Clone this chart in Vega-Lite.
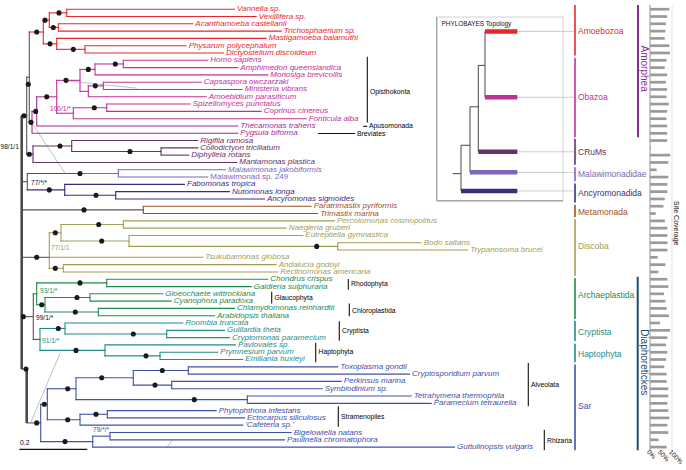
{
"$schema":"https://vega.github.io/schema/vega-lite/v6.json",
"width":686,"height":470,"autosize":{"type":"none"},"padding":0,"background":"white",
"config":{"view":{"stroke":null},"axis":{"disable":true},"legend":{"disable":true},"text":{"font":"Liberation Sans"}},
"datasets":{
"leaves":[
{"n":"Vannella sp.","x":66.7,"x2":235,"y":4.3,"g":"amoeb","cov":88},
{"n":"Vexillifera sp.","x":66.7,"x2":256.7,"y":11.8,"g":"amoeb","cov":78},
{"n":"Acanthamoeba castellanii","x":58.3,"x2":193.3,"y":19.2,"g":"amoeb","cov":72},
{"n":"Trichosphaerium sp.","x":58.3,"x2":281.7,"y":26.7,"g":"amoeb","cov":70},
{"n":"Mastigamoeba balamuthi","x":56.7,"x2":266.7,"y":34.1,"g":"amoeb","cov":67},
{"n":"Physarum polycephalum","x":85,"x2":186.7,"y":41.6,"g":"amoeb","cov":88},
{"n":"Dictyostelium discoideum","x":85,"x2":224,"y":49.0,"g":"amoeb","cov":91},
{"n":"Homo sapiens","x":123.3,"x2":208.3,"y":56.5,"g":"obaz","cov":75},
{"n":"Amphimedon queenslandica","x":123.3,"x2":238.3,"y":64.0,"g":"obaz","cov":67},
{"n":"Monosiga brevicollis","x":95,"x2":268.3,"y":71.4,"g":"obaz","cov":78},
{"n":"Capsaspora owczarzaki","x":103.3,"x2":201.7,"y":78.9,"g":"obaz","cov":72},
{"n":"Ministeria vibrans","x":103.3,"x2":242.7,"y":86.3,"g":"obaz","cov":78},
{"n":"Amoebidium parasiticum","x":88.3,"x2":206.7,"y":93.8,"g":"obaz","cov":75},
{"n":"Spizellomyces punctatus","x":106.7,"x2":190.7,"y":101.2,"g":"obaz","cov":85},
{"n":"Coprinus cinereus","x":106.7,"x2":261.7,"y":108.7,"g":"obaz","cov":78},
{"n":"Fonticula alba","x":73.3,"x2":306.7,"y":116.2,"g":"obaz","cov":75},
{"n":"Thecamonas trahens","x":36.7,"x2":238.3,"y":123.6,"g":"obaz2","cov":78},
{"n":"Pygsuia biforma","x":32,"x2":238.3,"y":131.1,"g":"obaz2","cov":78},
{"n":"Rigifila ramosa","x":71.7,"x2":198.3,"y":138.5,"g":"crums","cov":78},
{"n":"Collodictyon triciliatum","x":161,"x2":198.3,"y":146.0,"g":"crums","cov":3},
{"n":"Diphylleia rotans","x":161,"x2":189.3,"y":153.4,"g":"crums","cov":92},
{"n":"Mantamonas plastica","x":33,"x2":237.3,"y":160.9,"g":"crums","cov":83},
{"n":"Malawimonas jakobiformis","x":118.3,"x2":226,"y":168.4,"g":"malaw","cov":30},
{"n":"Malawimonad sp. 249","x":118.3,"x2":208.3,"y":175.8,"g":"malaw","cov":83},
{"n":"Fabomonas tropica","x":64.7,"x2":185,"y":183.3,"g":"ancy","cov":79},
{"n":"Nutomonas longa","x":115.7,"x2":230,"y":190.7,"g":"ancy","cov":79},
{"n":"Ancyromonas sigmoides","x":115.7,"x2":265,"y":198.2,"g":"ancy","cov":67},
{"n":"Paratrimastix pyriformis","x":143.3,"x2":311.7,"y":205.6,"g":"meta","cov":61},
{"n":"Trimastix marina","x":143.3,"x2":318.3,"y":213.1,"g":"meta","cov":26},
{"n":"Percolomonas cosmopolitus","x":123.3,"x2":335,"y":220.6,"g":"disc","cov":68},
{"n":"Naegleria gruberi","x":123.3,"x2":286.7,"y":228.0,"g":"disc","cov":79},
{"n":"Eutreptiella gymnastica","x":129,"x2":303.3,"y":235.5,"g":"disc","cov":79},
{"n":"Bodo saltans","x":337.7,"x2":421.7,"y":242.9,"g":"disc","cov":79},
{"n":"Trypanosoma brucei","x":337.7,"x2":468.3,"y":250.4,"g":"disc","cov":79},
{"n":"Tsukubamonas globosa","x":49.3,"x2":203.3,"y":257.8,"g":"disc","cov":35},
{"n":"Andalucia godoyi","x":63.3,"x2":276.7,"y":265.3,"g":"disc","cov":70},
{"n":"Reclinomonas americana","x":63.3,"x2":278.3,"y":272.8,"g":"disc","cov":38},
{"n":"Chondrus crispus","x":106.7,"x2":268.3,"y":280.2,"g":"arch","cov":79},
{"n":"Galdieria sulphuraria","x":106.7,"x2":251.7,"y":287.7,"g":"arch","cov":83},
{"n":"Gloeochaete wittrockiana","x":90,"x2":163.3,"y":295.1,"g":"arch","cov":64},
{"n":"Cyanophora paradoxa","x":90,"x2":171.7,"y":302.6,"g":"arch","cov":70},
{"n":"Chlamydomonas reinhardtii","x":98.3,"x2":235,"y":310.0,"g":"arch","cov":76},
{"n":"Arabidopsis thaliana","x":98.3,"x2":215,"y":317.5,"g":"arch","cov":86},
{"n":"Roombia truncata","x":65,"x2":183.3,"y":324.9,"g":"cryp","cov":45},
{"n":"Guillardia theta","x":166.7,"x2":225,"y":332.4,"g":"cryp","cov":91},
{"n":"Cryptomonas paramecium","x":166.7,"x2":230,"y":339.9,"g":"cryp","cov":79},
{"n":"Pavlovales sp.","x":105,"x2":236,"y":347.3,"g":"hapt","cov":73},
{"n":"Prymnesium parvum","x":160,"x2":218.3,"y":354.8,"g":"hapt","cov":79},
{"n":"Emiliania huxleyi","x":160,"x2":243.3,"y":362.2,"g":"hapt","cov":73},
{"n":"Toxoplasma gondii","x":188.3,"x2":338.3,"y":369.7,"g":"sar","cov":65},
{"n":"Cryptosporidium parvum","x":188.3,"x2":410,"y":377.1,"g":"sar","cov":76},
{"n":"Perkinsus marina","x":171.7,"x2":341.7,"y":384.6,"g":"sar","cov":76},
{"n":"Symbiodinium sp.","x":171.7,"x2":322.7,"y":392.1,"g":"sar","cov":83},
{"n":"Tetrahymena thermophila","x":247.3,"x2":411.7,"y":399.5,"g":"sar","cov":83},
{"n":"Paramecium tetraurelia","x":247.3,"x2":431.7,"y":407.0,"g":"sar","cov":79},
{"n":"Phytophthora infestans","x":107.3,"x2":216.7,"y":414.4,"g":"sar","cov":83},
{"n":"Ectocarpus siliculosus","x":107.3,"x2":245,"y":421.9,"g":"sar","cov":88},
{"n":"'Cafeteria sp.'","x":80,"x2":243.3,"y":429.3,"g":"sar","cov":79},
{"n":"Bigelowiella natans","x":110,"x2":291.7,"y":436.8,"g":"sar","cov":83},
{"n":"Paulinella chromatophora","x":110,"x2":285,"y":444.3,"g":"sar","cov":39},
{"n":"Guttulinopsis vulgaris","x":92.7,"x2":455,"y":451.7,"g":"sar","cov":76}
],
"segs":[
{"x":66.7,"x2":66.7,"y":4.3,"y2":11.8,"g":"amoeb"},
{"x":58.3,"x2":58.3,"y":19.2,"y2":26.7,"g":"amoeb"},
{"x":49.3,"x2":66.7,"y":8.05,"y2":8.05,"g":"amoeb"},
{"x":49.3,"x2":58.3,"y":22.95,"y2":22.95,"g":"amoeb"},
{"x":49.3,"x2":49.3,"y":8.05,"y2":22.95,"g":"amoeb"},
{"x":85,"x2":85,"y":41.6,"y2":49.0,"g":"amoeb"},
{"x":56.7,"x2":85,"y":45.3,"y2":45.3,"g":"amoeb"},
{"x":56.7,"x2":56.7,"y":34.1,"y2":45.3,"g":"amoeb"},
{"x":43.3,"x2":49.3,"y":15.5,"y2":15.5,"g":"amoeb"},
{"x":43.3,"x2":56.7,"y":39.7,"y2":39.7,"g":"amoeb"},
{"x":43.3,"x2":43.3,"y":15.5,"y2":39.7,"g":"amoeb"},
{"x":29.3,"x2":43.3,"y":27.6,"y2":27.6,"g":"amoeb"},
{"x":123.3,"x2":123.3,"y":56.5,"y2":64.0,"g":"obaz"},
{"x":95,"x2":123.3,"y":60.25,"y2":60.25,"g":"obaz"},
{"x":95,"x2":95,"y":60.25,"y2":71.4,"g":"obaz"},
{"x":80,"x2":95,"y":65.8,"y2":65.8,"g":"obaz"},
{"x":103.3,"x2":103.3,"y":78.9,"y2":86.3,"g":"obaz"},
{"x":88.3,"x2":103.3,"y":82.6,"y2":82.6,"g":"obaz"},
{"x":88.3,"x2":88.3,"y":82.6,"y2":93.8,"g":"obaz"},
{"x":80,"x2":88.3,"y":88.2,"y2":88.2,"g":"obaz"},
{"x":80,"x2":80,"y":65.8,"y2":88.2,"g":"obaz"},
{"x":56.7,"x2":80,"y":77,"y2":77,"g":"obaz"},
{"x":106.7,"x2":106.7,"y":101.2,"y2":108.7,"g":"obaz"},
{"x":73.3,"x2":106.7,"y":105,"y2":105,"g":"obaz"},
{"x":73.3,"x2":73.3,"y":105,"y2":116.2,"g":"obaz"},
{"x":56.7,"x2":73.3,"y":110.6,"y2":110.6,"g":"obaz"},
{"x":56.7,"x2":56.7,"y":77,"y2":110.6,"g":"obaz"},
{"x":36.7,"x2":56.7,"y":93.8,"y2":93.8,"g":"obaz"},
{"x":36.7,"x2":36.7,"y":93.8,"y2":123.6,"g":"obaz2"},
{"x":32,"x2":36.7,"y":108.7,"y2":108.7,"g":"obaz2"},
{"x":32,"x2":32,"y":108.7,"y2":131.1,"g":"obaz2"},
{"x":29.3,"x2":32,"y":119.9,"y2":119.9,"g":"obaz2"},
{"x":29.3,"x2":29.3,"y":27.6,"y2":119.9,"g":"deep"},
{"x":26.7,"x2":29.3,"y":73.75,"y2":73.75,"g":"deep"},
{"x":26.7,"x2":26.7,"y":73.75,"y2":152.5,"g":"deep"},
{"x":21.7,"x2":26.7,"y":113.1,"y2":113.1,"g":"deep"},
{"x":161,"x2":161,"y":146,"y2":153.4,"g":"crums"},
{"x":71.7,"x2":161,"y":149.7,"y2":149.7,"g":"crums"},
{"x":71.7,"x2":71.7,"y":138.5,"y2":149.7,"g":"crums"},
{"x":33,"x2":71.7,"y":144.1,"y2":144.1,"g":"crums"},
{"x":33,"x2":33,"y":144.1,"y2":160.9,"g":"crums"},
{"x":26.7,"x2":33,"y":152.5,"y2":152.5,"g":"crums"},
{"x":118.3,"x2":118.3,"y":168.4,"y2":175.8,"g":"malaw"},
{"x":80,"x2":118.3,"y":172.1,"y2":172.1,"g":"malaw"},
{"x":27.3,"x2":80,"y":172.1,"y2":172.1,"g":"deep"},
{"x":115.7,"x2":115.7,"y":190.7,"y2":198.2,"g":"ancy"},
{"x":64.7,"x2":115.7,"y":194.45,"y2":194.45,"g":"ancy"},
{"x":64.7,"x2":64.7,"y":183.3,"y2":194.45,"g":"ancy"},
{"x":27.3,"x2":64.7,"y":188.9,"y2":188.9,"g":"ancy"},
{"x":27.3,"x2":27.3,"y":172.1,"y2":188.9,"g":"deep"},
{"x":21.7,"x2":27.3,"y":180.5,"y2":180.5,"g":"deep"},
{"x":143.3,"x2":143.3,"y":205.6,"y2":213.1,"g":"meta"},
{"x":21.7,"x2":143.3,"y":209.35,"y2":209.35,"g":"deep"},
{"x":123.3,"x2":123.3,"y":220.6,"y2":228,"g":"disc"},
{"x":61,"x2":123.3,"y":224.3,"y2":224.3,"g":"disc"},
{"x":337.7,"x2":337.7,"y":242.9,"y2":250.4,"g":"disc"},
{"x":129,"x2":337.7,"y":246.65,"y2":246.65,"g":"disc"},
{"x":129,"x2":129,"y":235.5,"y2":246.65,"g":"disc"},
{"x":61,"x2":129,"y":241.1,"y2":241.1,"g":"disc"},
{"x":61,"x2":61,"y":224.3,"y2":241.1,"g":"disc"},
{"x":49.3,"x2":61,"y":232.7,"y2":232.7,"g":"disc"},
{"x":63.3,"x2":63.3,"y":265.3,"y2":272.8,"g":"disc"},
{"x":49.3,"x2":63.3,"y":269.05,"y2":269.05,"g":"disc"},
{"x":49.3,"x2":49.3,"y":232.7,"y2":269.05,"g":"disc"},
{"x":21.7,"x2":49.3,"y":257.8,"y2":257.8,"g":"deep"},
{"x":106.7,"x2":106.7,"y":280.2,"y2":287.7,"g":"arch"},
{"x":36.7,"x2":106.7,"y":283.95,"y2":283.95,"g":"arch"},
{"x":90,"x2":90,"y":295.1,"y2":302.6,"g":"arch"},
{"x":45,"x2":90,"y":298.85,"y2":298.85,"g":"arch"},
{"x":98.3,"x2":98.3,"y":310,"y2":317.5,"g":"arch"},
{"x":45,"x2":98.3,"y":313.75,"y2":313.75,"g":"arch"},
{"x":45,"x2":45,"y":298.85,"y2":313.75,"g":"arch"},
{"x":36.7,"x2":45,"y":306.3,"y2":306.3,"g":"arch"},
{"x":36.7,"x2":36.7,"y":283.95,"y2":306.3,"g":"arch"},
{"x":33.3,"x2":36.7,"y":295.1,"y2":295.1,"g":"arch"},
{"x":166.7,"x2":166.7,"y":332.4,"y2":339.9,"g":"cryp"},
{"x":65,"x2":166.7,"y":336.15,"y2":336.15,"g":"cryp"},
{"x":65,"x2":65,"y":324.9,"y2":336.15,"g":"cryp"},
{"x":40,"x2":65,"y":330.5,"y2":330.5,"g":"cryp"},
{"x":40,"x2":40,"y":330.5,"y2":352.9,"g":"cryp"},
{"x":160,"x2":160,"y":354.8,"y2":362.2,"g":"hapt"},
{"x":105,"x2":160,"y":358.5,"y2":358.5,"g":"hapt"},
{"x":105,"x2":105,"y":347.3,"y2":358.5,"g":"hapt"},
{"x":40,"x2":105,"y":352.9,"y2":352.9,"g":"hapt"},
{"x":33.3,"x2":40,"y":341.7,"y2":341.7,"g":"deep"},
{"x":33.3,"x2":33.3,"y":295.1,"y2":341.7,"g":"deep"},
{"x":21.7,"x2":33.3,"y":318.4,"y2":318.4,"g":"deep"},
{"x":21.7,"x2":26.7,"y":372,"y2":372,"g":"deep"},
{"x":188.3,"x2":188.3,"y":369.7,"y2":377.1,"g":"sar"},
{"x":133.3,"x2":188.3,"y":373.4,"y2":373.4,"g":"sar"},
{"x":171.7,"x2":171.7,"y":384.6,"y2":392.1,"g":"sar"},
{"x":133.3,"x2":171.7,"y":388.35,"y2":388.35,"g":"sar"},
{"x":133.3,"x2":133.3,"y":373.4,"y2":388.35,"g":"sar"},
{"x":76,"x2":133.3,"y":380.9,"y2":380.9,"g":"sar"},
{"x":247.3,"x2":247.3,"y":399.5,"y2":407,"g":"sar"},
{"x":76,"x2":247.3,"y":403.25,"y2":403.25,"g":"sar"},
{"x":76,"x2":76,"y":380.9,"y2":403.25,"g":"sar"},
{"x":47.3,"x2":76,"y":392.1,"y2":392.1,"g":"sar"},
{"x":107.3,"x2":107.3,"y":414.4,"y2":421.9,"g":"sar"},
{"x":80,"x2":107.3,"y":418.15,"y2":418.15,"g":"sar"},
{"x":80,"x2":80,"y":418.15,"y2":429.3,"g":"sar"},
{"x":47.3,"x2":80,"y":423.7,"y2":423.7,"g":"sar"},
{"x":47.3,"x2":47.3,"y":392.1,"y2":423.7,"g":"sar"},
{"x":40.7,"x2":47.3,"y":407.9,"y2":407.9,"g":"sar"},
{"x":110,"x2":110,"y":436.8,"y2":444.3,"g":"sar"},
{"x":92.7,"x2":110,"y":440.55,"y2":440.55,"g":"sar"},
{"x":92.7,"x2":92.7,"y":440.55,"y2":451.7,"g":"sar"},
{"x":40.7,"x2":92.7,"y":446.1,"y2":446.1,"g":"sar"},
{"x":40.7,"x2":40.7,"y":407.9,"y2":446.1,"g":"sar"},
{"x":26.7,"x2":40.7,"y":427,"y2":427,"g":"sar"}
],
"spine":[
{"x":21.7,"x2":21.7,"y":113.1,"y2":372},
{"x":26.7,"x2":26.7,"y":372,"y2":427}
],
"dots":[
{"x":59,"y":8.05},{"x":53.3,"y":22.95},{"x":73.3,"y":45.3},{"x":45,"y":15.5},{"x":50,"y":39.7},{"x":36.7,"y":27.6},
{"x":115.3,"y":60.25},{"x":88.3,"y":65.8},{"x":95.3,"y":82.6},{"x":66,"y":77},{"x":94.3,"y":105},{"x":46.7,"y":93.8},{"x":35.7,"y":108.7},{"x":31,"y":119.9},{"x":28.3,"y":81},
{"x":24,"y":113.1},{"x":130,"y":149.7},{"x":60,"y":144.1},{"x":29.3,"y":152.5},
{"x":80,"y":172.1},{"x":96,"y":194.45},{"x":49.3,"y":188.9},{"x":84,"y":209.35},
{"x":98.7,"y":224.3},{"x":316.7,"y":246.65},{"x":101.7,"y":241.1},{"x":55.3,"y":232.7},{"x":55.3,"y":269.05},{"x":36.7,"y":257.8},
{"x":80,"y":283.95},{"x":77,"y":298.85},{"x":75.3,"y":313.75},{"x":41.7,"y":306.3},
{"x":133.3,"y":336.15},{"x":58.3,"y":330.5},{"x":146,"y":358.5},{"x":76,"y":352.9},{"x":23.3,"y":318.4},{"x":26,"y":372},
{"x":162.3,"y":373.4},{"x":155,"y":388.35},{"x":101.7,"y":380.9},{"x":194.3,"y":403.25},{"x":67.7,"y":392.1},{"x":96,"y":418.15},{"x":67.7,"y":423.7},{"x":44.3,"y":407.9},{"x":65,"y":446.1},{"x":36.7,"y":427}
],
"boot":[
{"t":"98/1/1","x":0.5,"y":145,"g":"blk"},
{"t":"100/1/*","x":50,"y":106,"g":"obaz"},
{"t":"77/*/*","x":31,"y":182,"g":"blk"},
{"t":"77/1/1","x":51,"y":248,"g":"disc"},
{"t":"93/1/*","x":40,"y":292,"g":"arch"},
{"t":"99/1/*","x":36,"y":320,"g":"blk"},
{"t":"91/1/*","x":42,"y":343,"g":"cryp"},
{"t":"79/*/*","x":93,"y":434,"g":"sar"}
],
"leader":[
{"x":68,"x2":137,"y":77.7,"y2":85},
{"x":31.7,"x2":65,"y":120,"y2":172},
{"x":60,"x2":31,"y":356,"y2":426},
{"x":167,"x2":172,"y":451.7,"y2":445}
],
"ann":[
{"x":367.3,"x2":367.3,"y":53,"y2":120},
{"x":363.3,"x2":367.3,"y":124,"y2":124},
{"x":318,"x2":355,"y":131.3,"y2":131.3},
{"x":348.3,"x2":348.3,"y":280,"y2":291},
{"x":271.7,"x2":271.7,"y":293,"y2":305},
{"x":349.3,"x2":349.3,"y":305,"y2":318},
{"x":339.3,"x2":339.3,"y":323,"y2":343},
{"x":315.7,"x2":315.7,"y":345,"y2":365},
{"x":528.3,"x2":528.3,"y":365.7,"y2":410},
{"x":338.3,"x2":338.3,"y":410,"y2":431},
{"x":544.3,"x2":544.3,"y":434,"y2":455},
{"x":19.3,"x2":87.3,"y":454,"y2":454}
],
"annt":[
{"t":"Opisthokonta","x":370,"y":89},
{"t":"Apusomonada","x":369,"y":123.5},
{"t":"Breviates","x":357,"y":131.6},
{"t":"Rhodophyta","x":351,"y":285},
{"t":"Glaucophyta","x":274.5,"y":299.5},
{"t":"Chloroplastida","x":352,"y":313},
{"t":"Cryptista","x":342,"y":333.5},
{"t":"Haptophyta","x":318.5,"y":355},
{"t":"Alveolata","x":531,"y":388},
{"t":"Stramenopiles","x":341,"y":421},
{"t":"Rhizaria","x":547,"y":445},
{"t":"0.2","x":20,"y":448}
],
"clades":[
{"n":"Amoebozoa","x":575,"y":0,"y2":51.7,"ly":27,"g":"amoeb"},
{"n":"Obazoa","x":575,"y":54,"y2":135,"ly":94.3,"g":"obaz"},
{"n":"CRuMs","x":575,"y":136.7,"y2":163.3,"ly":150,"g":"crums"},
{"n":"Malawimonadidae","x":575,"y":165.7,"y2":180,"ly":173,"g":"malaw"},
{"n":"Ancyromonadida","x":575,"y":182.3,"y2":201.7,"ly":191.7,"g":"ancy"},
{"n":"Metamonada","x":575,"y":204,"y2":216.7,"ly":211.5,"g":"meta"},
{"n":"Discoba","x":575,"y":219,"y2":276.7,"ly":246.7,"g":"disc"},
{"n":"Archaeplastida","x":575,"y":279,"y2":320.7,"ly":296.7,"g":"arch"},
{"n":"Cryptista","x":575,"y":322.7,"y2":343.3,"ly":334,"g":"cryp"},
{"n":"Haptophyta","x":575,"y":346,"y2":365,"ly":356.7,"g":"hapt"},
{"n":"Sar","x":575,"y":367.3,"y2":455,"ly":410,"g":"sar"}
],
"super":[
{"n":"Amorphea","x":638,"lx":643.5,"y":0,"y2":135,"ly":65,"g":"amorph"},
{"n":"Diaphoretickes","x":637.7,"lx":644,"y":277.7,"y2":455,"ly":365,"g":"diaph"}
],
"inthin":[
{"x":485,"x2":485,"y":27,"y2":94.3},
{"x":478.3,"x2":485,"y":61.7,"y2":61.7},
{"x":478.3,"x2":478.3,"y":61.7,"y2":150},
{"x":470,"x2":478.3,"y":104,"y2":104},
{"x":470,"x2":470,"y":104,"y2":171},
{"x":461,"x2":470,"y":143.3,"y2":143.3},
{"x":461,"x2":461,"y":143.3,"y2":190},
{"x":452.7,"x2":461,"y":172.3,"y2":172.3}
],
"inbars":[
{"x":485,"x2":517.3,"y":27,"g":"amoeb"},
{"x":485,"x2":517.3,"y":94.3,"g":"obaz"},
{"x":478.3,"x2":517.3,"y":150,"g":"crums"},
{"x":470,"x2":517.3,"y":171,"g":"malaw"},
{"x":461,"x2":517.3,"y":190,"g":"ancy"}
],
"dotted":[
{"x":517.3,"x2":575,"y":27},{"x":517.3,"x2":575,"y":94.3},{"x":517.3,"x2":575,"y":150},{"x":517.3,"x2":575,"y":171},{"x":517.3,"x2":575,"y":190}
],
"box":[{"x":436.7,"x2":563,"y":12.3,"y2":200}],
"boxline":[{"x":436.7,"x2":436.7,"y":12.3,"y2":200},{"x":436.7,"x2":563,"y":200,"y2":200}],
"misc":[{"t":"PHYLOBAYES Topology","x":441.5,"y":19.5}],
"side":[{"t":"Site Coverage","x":675.5,"y":223}],
"covgrid":[{"v":0,"y":0,"y2":455}],
"covgrid2":[{"v":100,"y":0,"y2":455}],
"covlab":[{"v":0,"t":"0%","y":458},{"v":50,"t":"50%","y":458},{"v":100,"t":"100%","y":458}]
},
"resolve":{"scale":{"x":"independent"}},
"layer":[
{
"layer":[
{"data":{"name":"leader"},"mark":{"type":"rule","color":"#b0b0b0","strokeWidth":0.8},"encoding":{"x":{"field":"x","type":"quantitative","scale":{"domain":[0,686],"nice":false,"zero":false},"axis":null},"y":{"field":"y","type":"quantitative","scale":{"domain":[0,470],"reverse":true,"nice":false,"zero":false},"axis":null},"x2":{"field":"x2"},"y2":{"field":"y2"}}},
{"data":{"name":"box"},"mark":{"type":"rect","fillOpacity":0,"stroke":"#d0d0d0","strokeWidth":1},"encoding":{"x":{"field":"x","type":"quantitative"},"y":{"field":"y","type":"quantitative"},"x2":{"field":"x2"},"y2":{"field":"y2"}}},
{"data":{"name":"boxline"},"mark":{"type":"rule","color":"#a8a8a8","strokeWidth":1.4},"encoding":{"x":{"field":"x","type":"quantitative"},"y":{"field":"y","type":"quantitative"},"x2":{"field":"x2"},"y2":{"field":"y2"}}},
{"data":{"name":"segs"},"mark":{"type":"rule","strokeWidth":1.1,"strokeCap":"square"},"encoding":{"x":{"field":"x","type":"quantitative"},"y":{"field":"y","type":"quantitative"},"x2":{"field":"x2"},"y2":{"field":"y2"},"color":{"field":"g","type":"nominal","scale":{"domain":["deep","amoeb","obaz","obaz2","crums","malaw","ancy","meta","disc","arch","cryp","hapt","sar","blk","amorph","diaph"],"range":["#555555","#e8262d","#c0309b","#9b2f8f","#66306c","#7e67b9","#3c2c80","#9e4f1f","#a39e55","#1f8b4f","#1f8c89","#1f8c89","#4050a6","#111111","#8b2b9b","#1d4e6e"]},"legend":null}}},
{"data":{"name":"spine"},"mark":{"type":"rule","color":"#4a4a4a","strokeWidth":2.6},"encoding":{"x":{"field":"x","type":"quantitative"},"y":{"field":"y","type":"quantitative"},"x2":{"field":"x2"},"y2":{"field":"y2"}}},
{"data":{"name":"leaves"},"mark":{"type":"rule","strokeWidth":1.1},"encoding":{"x":{"field":"x","type":"quantitative"},"y":{"field":"y","type":"quantitative"},"x2":{"field":"x2"},"color":{"field":"g","type":"nominal","legend":null}}},
{"data":{"name":"dots"},"mark":{"type":"circle","size":26,"color":"#1a1a1a","opacity":1},"encoding":{"x":{"field":"x","type":"quantitative"},"y":{"field":"y","type":"quantitative"}}},
{"data":{"name":"leaves"},"transform":[{"filter":"datum.n !== 'Malawimonad sp. 249'"}],"mark":{"type":"text","align":"left","baseline":"middle","dx":2,"fontSize":8,"fontStyle":"italic"},"encoding":{"x":{"field":"x2","type":"quantitative"},"y":{"field":"y","type":"quantitative"},"text":{"field":"n"},"color":{"field":"g","type":"nominal","legend":null}}},
{"data":{"name":"leaves"},"transform":[{"filter":"datum.n === 'Malawimonad sp. 249'"}],"mark":{"type":"text","align":"left","baseline":"middle","dx":2,"fontSize":8},"encoding":{"x":{"field":"x2","type":"quantitative"},"y":{"field":"y","type":"quantitative"},"text":{"field":"n"},"color":{"field":"g","type":"nominal","legend":null}}},
{"data":{"name":"boot"},"mark":{"type":"text","align":"left","baseline":"middle","fontSize":6.6},"encoding":{"x":{"field":"x","type":"quantitative"},"y":{"field":"y","type":"quantitative"},"text":{"field":"t"},"color":{"field":"g","type":"nominal","legend":null}}},
{"data":{"name":"ann"},"mark":{"type":"rule","color":"#111111","strokeWidth":1.1},"encoding":{"x":{"field":"x","type":"quantitative"},"y":{"field":"y","type":"quantitative"},"x2":{"field":"x2"},"y2":{"field":"y2"}}},
{"data":{"name":"annt"},"mark":{"type":"text","align":"left","baseline":"middle","fontSize":6.8,"color":"#000000"},"encoding":{"x":{"field":"x","type":"quantitative"},"y":{"field":"y","type":"quantitative"},"text":{"field":"t"}}},
{"data":{"name":"clades"},"mark":{"type":"rule","strokeWidth":1.6},"encoding":{"x":{"field":"x","type":"quantitative"},"y":{"field":"y","type":"quantitative"},"y2":{"field":"y2"},"color":{"field":"g","type":"nominal","legend":null}}},
{"data":{"name":"clades"},"mark":{"type":"text","align":"left","baseline":"middle","dx":3,"fontSize":8.5},"encoding":{"x":{"field":"x","type":"quantitative"},"y":{"field":"ly","type":"quantitative"},"text":{"field":"n"},"color":{"field":"g","type":"nominal","legend":null}}},
{"data":{"name":"super"},"mark":{"type":"rule","strokeWidth":2},"encoding":{"x":{"field":"x","type":"quantitative"},"y":{"field":"y","type":"quantitative"},"y2":{"field":"y2"},"color":{"field":"g","type":"nominal","legend":null}}},
{"data":{"name":"super"},"mark":{"type":"text","align":"center","baseline":"middle","angle":90,"fontSize":10},"encoding":{"x":{"field":"lx","type":"quantitative"},"y":{"field":"ly","type":"quantitative"},"text":{"field":"n"},"color":{"field":"g","type":"nominal","legend":null}}},
{"data":{"name":"dotted"},"mark":{"type":"rule","color":"#9a9a9a","strokeWidth":1,"strokeDash":[1,1]},"encoding":{"x":{"field":"x","type":"quantitative"},"y":{"field":"y","type":"quantitative"},"x2":{"field":"x2"}}},
{"data":{"name":"inthin"},"mark":{"type":"rule","color":"#333333","strokeWidth":0.9},"encoding":{"x":{"field":"x","type":"quantitative"},"y":{"field":"y","type":"quantitative"},"x2":{"field":"x2"},"y2":{"field":"y2"}}},
{"data":{"name":"inbars"},"mark":{"type":"rule","strokeWidth":4.5},"encoding":{"x":{"field":"x","type":"quantitative"},"y":{"field":"y","type":"quantitative"},"x2":{"field":"x2"},"color":{"field":"g","type":"nominal","legend":null}}},
{"data":{"name":"misc"},"mark":{"type":"text","align":"left","baseline":"middle","fontSize":6.4,"color":"#111111"},"encoding":{"x":{"field":"x","type":"quantitative"},"y":{"field":"y","type":"quantitative"},"text":{"field":"t"}}},
{"data":{"name":"side"},"mark":{"type":"text","align":"center","baseline":"middle","angle":90,"fontSize":7,"color":"#111111"},"encoding":{"x":{"field":"x","type":"quantitative"},"y":{"field":"y","type":"quantitative"},"text":{"field":"t"}}}
]
},
{
"layer":[
{"data":{"name":"covgrid"},"mark":{"type":"rule","color":"#b8b8b8","strokeWidth":1.5},"encoding":{"x":{"field":"v","type":"quantitative","scale":{"domain":[-2954.5,163.6],"nice":false,"zero":false},"axis":null},"y":{"field":"y","type":"quantitative","scale":{"domain":[0,470],"reverse":true,"nice":false,"zero":false},"axis":null},"y2":{"field":"y2"}}},
{"data":{"name":"covgrid2"},"mark":{"type":"rule","color":"#e0e0e0","strokeWidth":1},"encoding":{"x":{"field":"v","type":"quantitative"},"y":{"field":"y","type":"quantitative"},"y2":{"field":"y2"}}},
{"data":{"name":"leaves"},"mark":{"type":"bar","orient":"horizontal","height":2.7,"color":"#9a9a9a"},"encoding":{"x":{"field":"cov","type":"quantitative"},"y":{"field":"y","type":"quantitative"}}},
{"data":{"name":"covlab"},"mark":{"type":"text","align":"left","baseline":"middle","angle":45,"fontSize":6.5,"dx":-3,"color":"#111111"},"encoding":{"x":{"field":"v","type":"quantitative"},"y":{"field":"y","type":"quantitative"},"text":{"field":"t"}}}
]
}
]
}
